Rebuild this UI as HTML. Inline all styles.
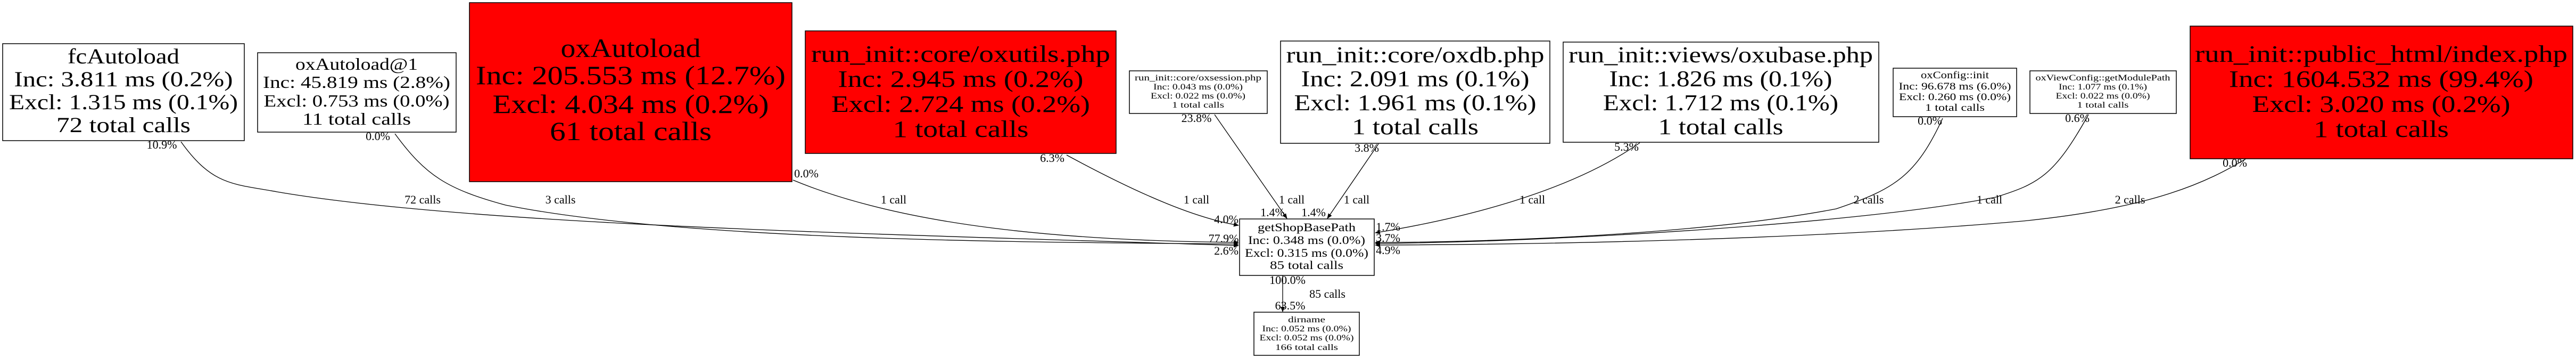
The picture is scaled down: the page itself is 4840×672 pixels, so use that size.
<!DOCTYPE html>
<html><head><meta charset="utf-8"><style>
html,body{margin:0;padding:0;background:#fff;}
svg{display:block;}
text{font-family:"Liberation Serif",serif;fill:#000;}
</style></head><body>
<svg width="4840" height="672" viewBox="0 0 4840 672" xmlns="http://www.w3.org/2000/svg">
<defs>
<marker id="a" markerWidth="10" markerHeight="8" refX="9" refY="4" orient="auto" markerUnits="userSpaceOnUse">
<path d="M0,0 L10,4 L0,8 z" fill="#000"/>
</marker>
</defs>
<g fill="none" stroke="#000" stroke-width="1.3">
<path d="M340,266 C400,350 440,345 520,360 C900,425 1700,440 2327,461" marker-end="url(#a)"/>
<path d="M742,251 C800,330 840,355 950,385 C1300,455 2000,455 2327,458" marker-end="url(#a)"/>
<path d="M1490,338 C1700,425 2000,452 2327,455" marker-end="url(#a)"/>
<path d="M2004,291 C2150,370 2250,410 2327,423" marker-end="url(#a)"/>
<path d="M2282,215 L2418,410" marker-end="url(#a)"/>
<path d="M2590,270 L2494,410" marker-end="url(#a)"/>
<path d="M3081,268 C2950,360 2750,410 2584,437" marker-end="url(#a)"/>
<path d="M3650,222 C3600,330 3560,355 3450,392 C3200,440 2800,455 2584,455" marker-end="url(#a)"/>
<path d="M3924,215 C3860,330 3830,345 3750,370 C3500,420 2900,455 2584,457" marker-end="url(#a)"/>
<path d="M4220,298 C4150,340 4050,390 3800,415 C3400,450 2900,459 2584,460" marker-end="url(#a)"/>
<path d="M2410,517 L2410,585" marker-end="url(#a)"/>
</g>
<g stroke="#000" stroke-width="1.5">
<rect x="5" y="82" width="454" height="182" fill="#fff"/>
<rect x="484" y="99" width="373" height="149" fill="#fff"/>
<rect x="882" y="5" width="606" height="336" fill="#f00"/>
<rect x="1513" y="58" width="584" height="230" fill="#f00"/>
<rect x="2122" y="133" width="259" height="80" fill="#fff"/>
<rect x="2406" y="77" width="506" height="192" fill="#fff"/>
<rect x="2937" y="79" width="593" height="188" fill="#fff"/>
<rect x="3557" y="128" width="232" height="91" fill="#fff"/>
<rect x="3814" y="133" width="275" height="80" fill="#fff"/>
<rect x="4115" y="49" width="719" height="249" fill="#f00"/>
<rect x="2329" y="411" width="253" height="106" fill="#fff"/>
<rect x="2356" y="586" width="198" height="81" fill="#fff"/>
</g>
<g text-anchor="middle">
<g font-size="40">
<text x="232" y="119" textLength="210" lengthAdjust="spacingAndGlyphs">fcAutoload</text>
<text x="232" y="162" textLength="411" lengthAdjust="spacingAndGlyphs">Inc: 3.811 ms (0.2%)</text>
<text x="232" y="205" textLength="430" lengthAdjust="spacingAndGlyphs">Excl: 1.315 ms (0.1%)</text>
<text x="232" y="248" textLength="252" lengthAdjust="spacingAndGlyphs">72 total calls</text>
</g>
<g font-size="32">
<text x="670" y="131" textLength="230" lengthAdjust="spacingAndGlyphs">oxAutoload@1</text>
<text x="670" y="165" textLength="352" lengthAdjust="spacingAndGlyphs">Inc: 45.819 ms (2.8%)</text>
<text x="670" y="200" textLength="349" lengthAdjust="spacingAndGlyphs">Excl: 0.753 ms (0.0%)</text>
<text x="670" y="234" textLength="204" lengthAdjust="spacingAndGlyphs">11 total calls</text>
</g>
<g font-size="50">
<text x="1185" y="107" textLength="263" lengthAdjust="spacingAndGlyphs">oxAutoload</text>
<text x="1185" y="158" textLength="582" lengthAdjust="spacingAndGlyphs">Inc: 205.553 ms (12.7%)</text>
<text x="1185" y="212" textLength="519" lengthAdjust="spacingAndGlyphs">Excl: 4.034 ms (0.2%)</text>
<text x="1185" y="263" textLength="304" lengthAdjust="spacingAndGlyphs">61 total calls</text>
</g>
<g font-size="44">
<text x="1805" y="116" textLength="562" lengthAdjust="spacingAndGlyphs">run_init::core/oxutils.php</text>
<text x="1805" y="163" textLength="461" lengthAdjust="spacingAndGlyphs">Inc: 2.945 ms (0.2%)</text>
<text x="1805" y="210" textLength="486" lengthAdjust="spacingAndGlyphs">Excl: 2.724 ms (0.2%)</text>
<text x="1805" y="257" textLength="255" lengthAdjust="spacingAndGlyphs">1 total calls</text>
</g>
<g font-size="16">
<text x="2251" y="151" textLength="238" lengthAdjust="spacingAndGlyphs">run_init::core/oxsession.php</text>
<text x="2251" y="168" textLength="168" lengthAdjust="spacingAndGlyphs">Inc: 0.043 ms (0.0%)</text>
<text x="2251" y="185" textLength="178" lengthAdjust="spacingAndGlyphs">Excl: 0.022 ms (0.0%)</text>
<text x="2251" y="202" textLength="98" lengthAdjust="spacingAndGlyphs">1 total calls</text>
</g>
<g font-size="42">
<text x="2659" y="117" textLength="485" lengthAdjust="spacingAndGlyphs">run_init::core/oxdb.php</text>
<text x="2659" y="162" textLength="429" lengthAdjust="spacingAndGlyphs">Inc: 2.091 ms (0.1%)</text>
<text x="2659" y="207" textLength="455" lengthAdjust="spacingAndGlyphs">Excl: 1.961 ms (0.1%)</text>
<text x="2659" y="252" textLength="238" lengthAdjust="spacingAndGlyphs">1 total calls</text>
</g>
<g font-size="42">
<text x="3233" y="117" textLength="572" lengthAdjust="spacingAndGlyphs">run_init::views/oxubase.php</text>
<text x="3233" y="162" textLength="419" lengthAdjust="spacingAndGlyphs">Inc: 1.826 ms (0.1%)</text>
<text x="3233" y="207" textLength="442" lengthAdjust="spacingAndGlyphs">Excl: 1.712 ms (0.1%)</text>
<text x="3233" y="252" textLength="235" lengthAdjust="spacingAndGlyphs">1 total calls</text>
</g>
<g font-size="19">
<text x="3673" y="147" textLength="128" lengthAdjust="spacingAndGlyphs">oxConfig::init</text>
<text x="3673" y="168" textLength="211" lengthAdjust="spacingAndGlyphs">Inc: 96.678 ms (6.0%)</text>
<text x="3673" y="188" textLength="210" lengthAdjust="spacingAndGlyphs">Excl: 0.260 ms (0.0%)</text>
<text x="3673" y="208" textLength="112" lengthAdjust="spacingAndGlyphs">1 total calls</text>
</g>
<g font-size="16">
<text x="3951" y="151" textLength="253" lengthAdjust="spacingAndGlyphs">oxViewConfig::getModulePath</text>
<text x="3951" y="168" textLength="166" lengthAdjust="spacingAndGlyphs">Inc: 1.077 ms (0.1%)</text>
<text x="3951" y="185" textLength="177" lengthAdjust="spacingAndGlyphs">Excl: 0.022 ms (0.0%)</text>
<text x="3951" y="202" textLength="97" lengthAdjust="spacingAndGlyphs">1 total calls</text>
</g>
<g font-size="44">
<text x="4474" y="116" textLength="700" lengthAdjust="spacingAndGlyphs">run_init::public_html/index.php</text>
<text x="4474" y="163" textLength="572" lengthAdjust="spacingAndGlyphs">Inc: 1604.532 ms (99.4%)</text>
<text x="4474" y="210" textLength="485" lengthAdjust="spacingAndGlyphs">Excl: 3.020 ms (0.2%)</text>
<text x="4474" y="257" textLength="254" lengthAdjust="spacingAndGlyphs">1 total calls</text>
</g>
<g font-size="22">
<text x="2455" y="434" textLength="184" lengthAdjust="spacingAndGlyphs">getShopBasePath</text>
<text x="2455" y="458" textLength="220" lengthAdjust="spacingAndGlyphs">Inc: 0.348 ms (0.0%)</text>
<text x="2455" y="482" textLength="232" lengthAdjust="spacingAndGlyphs">Excl: 0.315 ms (0.0%)</text>
<text x="2455" y="505" textLength="138" lengthAdjust="spacingAndGlyphs">85 total calls</text>
</g>
<g font-size="16">
<text x="2455" y="605" textLength="70" lengthAdjust="spacingAndGlyphs">dirname</text>
<text x="2455" y="622" textLength="167" lengthAdjust="spacingAndGlyphs">Inc: 0.052 ms (0.0%)</text>
<text x="2455" y="639" textLength="177" lengthAdjust="spacingAndGlyphs">Excl: 0.052 ms (0.0%)</text>
<text x="2455" y="657" textLength="118" lengthAdjust="spacingAndGlyphs">166 total calls</text>
</g>
<g font-size="22">
<text x="304" y="279">10.9%</text>
<text x="710" y="263">0.0%</text>
<text x="794" y="382">72 calls</text>
<text x="1053" y="382">3 calls</text>
<text x="1515" y="333">0.0%</text>
<text x="1679" y="382">1 call</text>
<text x="1977" y="304">6.3%</text>
<text x="2248" y="229">23.8%</text>
<text x="2248" y="382">1 call</text>
<text x="2427" y="382">1 call</text>
<text x="2549" y="382">1 call</text>
<text x="2568" y="285">3.8%</text>
<text x="2879" y="382">1 call</text>
<text x="3056" y="283">5.3%</text>
<text x="2391" y="406">1.4%</text>
<text x="2468" y="406">1.4%</text>
<text x="2304" y="419">4.0%</text>
<text x="2299" y="455">77.9%</text>
<text x="2304" y="478">2.6%</text>
<text x="2608" y="433">1.7%</text>
<text x="2608" y="454">3.7%</text>
<text x="2608" y="477">4.9%</text>
<text x="2419" y="533">100.0%</text>
<text x="2494" y="559">85 calls</text>
<text x="2424" y="581">63.5%</text>
<text x="3626" y="234">0.0%</text>
<text x="3903" y="229">0.6%</text>
<text x="4199" y="313">0.0%</text>
<text x="3511" y="382">2 calls</text>
<text x="3738" y="382">1 call</text>
<text x="4002" y="382">2 calls</text>
</g>
</g>
</svg>
</body></html>
